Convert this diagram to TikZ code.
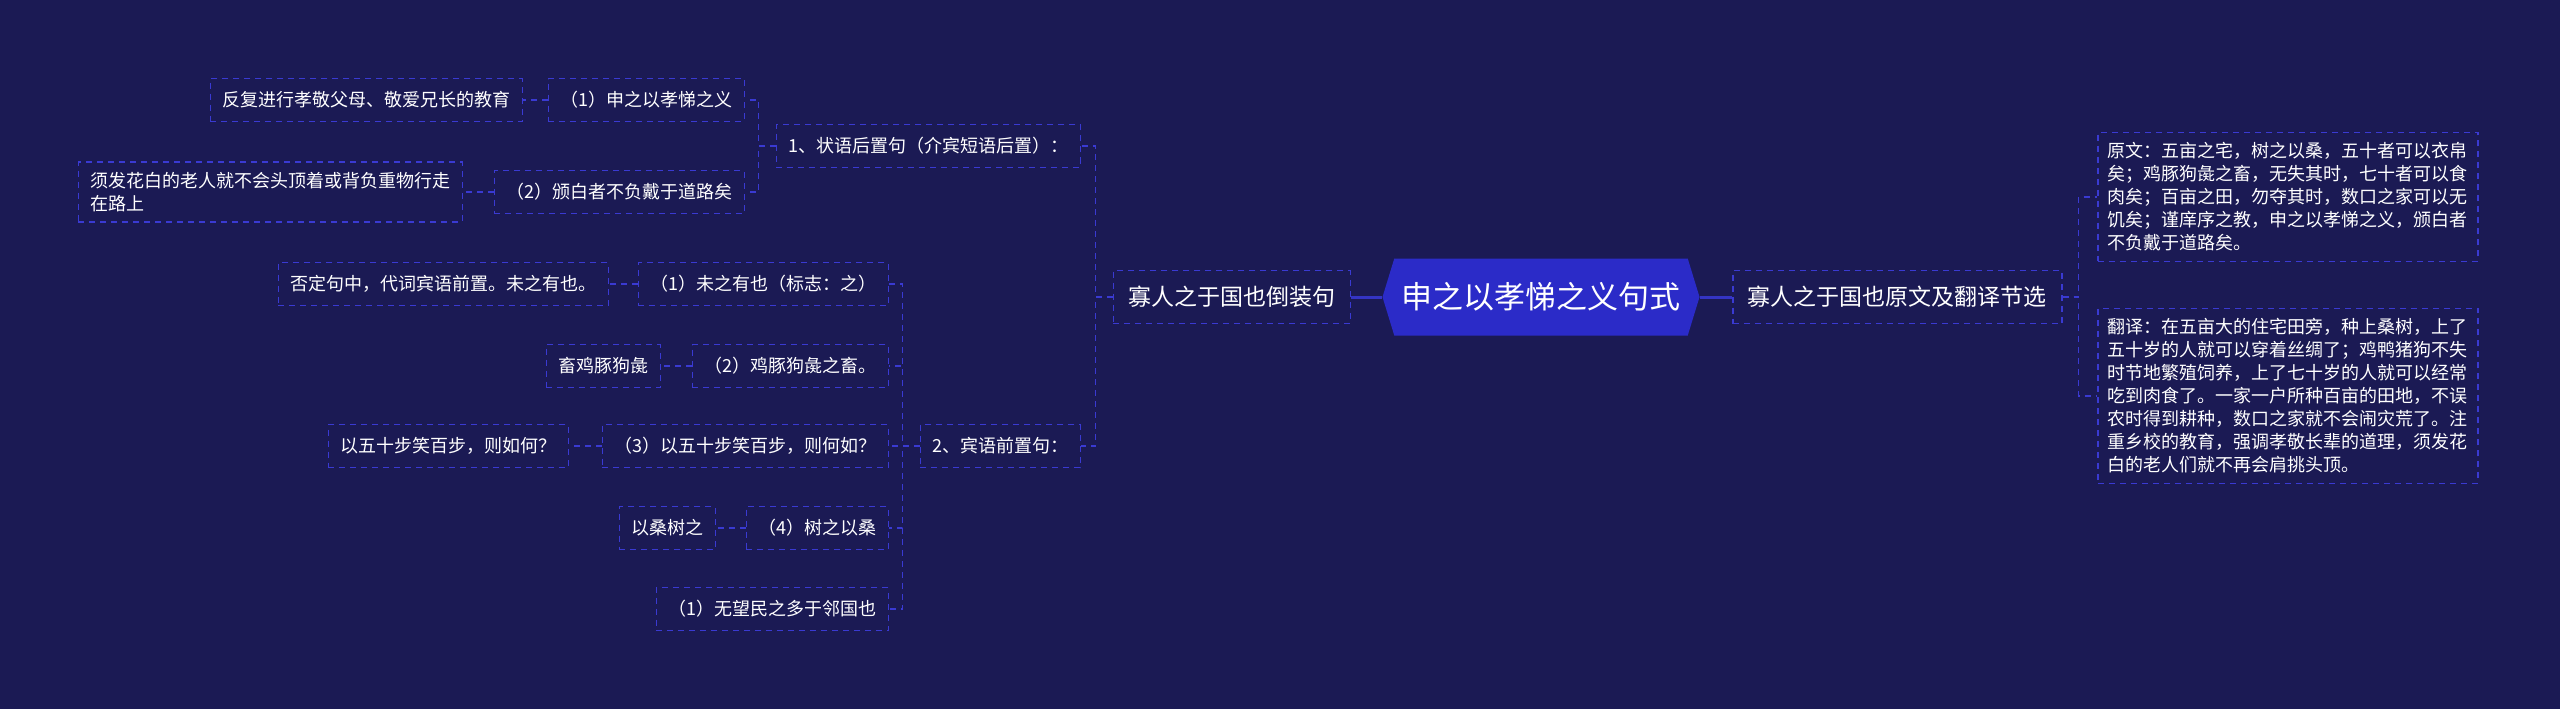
\documentclass[tikz,border=0pt]{standalone}
\usepackage{fontspec}
\setmainfont{Noto Sans CJK SC}
\usepackage{tikz}
\usetikzlibrary{shapes.symbols}
\definecolor{bgnavy}{HTML}{1B1A54}
\definecolor{hexblue}{HTML}{2B2BC8}
\definecolor{dashblue}{HTML}{3A3AD2}
\definecolor{linkblue}{HTML}{3434C4}

\begin{document}
\begin{tikzpicture}[x=0.5pt, y=-0.5pt,
    box/.style={draw=dashblue, line width=0.75pt, dash pattern=on 3pt off 2.5pt,
        text=white, font=\fontsize{9}{11.5}\selectfont, inner xsep=6pt,
        minimum height=21.5pt},
    para/.style={box, align=left, inner xsep=5pt, inner ysep=5pt},
    topic/.style={box, font=\fontsize{11.5}{14}\selectfont, inner xsep=7.5pt,
        minimum height=26.5pt},
    root/.style={shape=signal, signal to=west and east, signal pointer angle=146,
        fill=hexblue, text=white, font=\fontsize{15.5}{18}\selectfont,
        minimum width=158.5pt, minimum height=38.5pt, inner sep=0pt},
    link/.style={draw=dashblue, line width=0.75pt, dash pattern=on 3pt off 2.5pt},
    trunk/.style={draw=linkblue, line width=1.5pt},
    elbowl/.style={to path={-- ++(-17,0) |- (\tikztotarget)}},
    elbowr/.style={to path={-- ++(16,0) |- (\tikztotarget)}}]
    \useasboundingbox (0,0) rectangle (2560,709);
    \fill[bgnavy] (0,0) rectangle (2560,709);

	\node[root] (main) at (1541, 297) {申之以孝悌之义句式};
	\node[topic, anchor=east] (dz) at (1351, 297) {寡人之于国也倒装句};
	\node[topic, anchor=west] (yw) at (1732, 297) {寡人之于国也原文及翻译节选};

	\node[box, anchor=east] (zy) at (1081, 146) {1、状语后置句（介宾短语后置）：};
	\node[box, anchor=east] (by) at (1081, 446) {2、宾语前置句：};

	\node[box, anchor=east] (zy1) at (745, 100) {（1）申之以孝悌之义};
	\node[box, anchor=east] (zy1a) at (523, 100) {反复进行孝敬父母、敬爱兄长的教育};
	\node[box, anchor=east] (zy2) at (745, 192) {（2）颁白者不负戴于道路矣};
	\node[para, anchor=east, inner xsep=6pt] (zy2a) at (463, 192)
	    {须发花白的老人就不会头顶着或背负重物行走\\在路上};

	\node[box, anchor=east] (by1) at (889, 284) {（1）未之有也（标志：之）};
	\node[box, anchor=east] (by1a) at (609, 284) {否定句中，代词宾语前置。未之有也。};
	\node[box, anchor=east] (by2) at (889, 366) {（2）鸡豚狗彘之畜。};
	\node[box, anchor=east] (by2a) at (661, 366) {畜鸡豚狗彘};
	\node[box, anchor=east] (by3) at (889, 446) {（3）以五十步笑百步，则何如？};
	\node[box, anchor=east] (by3a) at (569, 446) {以五十步笑百步，则如何？};
	\node[box, anchor=east] (by4) at (889, 528) {（4）树之以桑};
	\node[box, anchor=east] (by4a) at (716, 528) {以桑树之};
	\node[box, anchor=east] (by5) at (889, 609) {（1）无望民之多于邻国也};

	\node[para, anchor=west] (yw1) at (2097, 197)
	    {原文：五亩之宅，树之以桑，五十者可以衣帛\\
	     矣；鸡豚狗彘之畜，无失其时，七十者可以食\\
	     肉矣；百亩之田，勿夺其时，数口之家可以无\\
	     饥矣；谨庠序之教，申之以孝悌之义，颁白者\\
	     不负戴于道路矣。};
	\node[para, anchor=west] (yw2) at (2097, 396)
	    {翻译：在五亩大的住宅田旁，种上桑树，上了\\
	     五十岁的人就可以穿着丝绸了；鸡鸭猪狗不失\\
	     时节地繁殖饲养，上了七十岁的人就可以经常\\
	     吃到肉食了。一家一户所种百亩的田地，不误\\
	     农时得到耕种，数口之家就不会闹灾荒了。注\\
	     重乡校的教育，强调孝敬长辈的道理，须发花\\
	     白的老人们就不再会肩挑头顶。};

    \path[trunk] (main.west) edge (dz.east);
    \path[trunk] (main.east) edge (yw.west);
    \path[link] (dz.west) edge[elbowl] (zy.east);
    \path[link] (dz.west) edge[elbowl] (by.east);
    \path[link] (yw.east) edge[elbowr] (yw1.west);
    \path[link] (yw.east) edge[elbowr] (yw2.west);
    \path[link] (zy.west) edge[elbowl] (zy1.east);
    \path[link] (zy.west) edge[elbowl] (zy2.east);
    \path[link] (zy1.west) edge (zy1a.east);
    \path[link] (zy2.west) edge (zy2a.east);
    \path[link] (by.west) edge[elbowl] (by1.east);
    \path[link] (by.west) edge[elbowl] (by2.east);
    \path[link] (by.west) edge[elbowl] (by3.east);
    \path[link] (by.west) edge[elbowl] (by4.east);
    \path[link] (by.west) edge[elbowl] (by5.east);
    \path[link] (by1.west) edge (by1a.east);
    \path[link] (by2.west) edge (by2a.east);
    \path[link] (by3.west) edge (by3a.east);
    \path[link] (by4.west) edge (by4a.east);
	\end{tikzpicture}
\end{document}
